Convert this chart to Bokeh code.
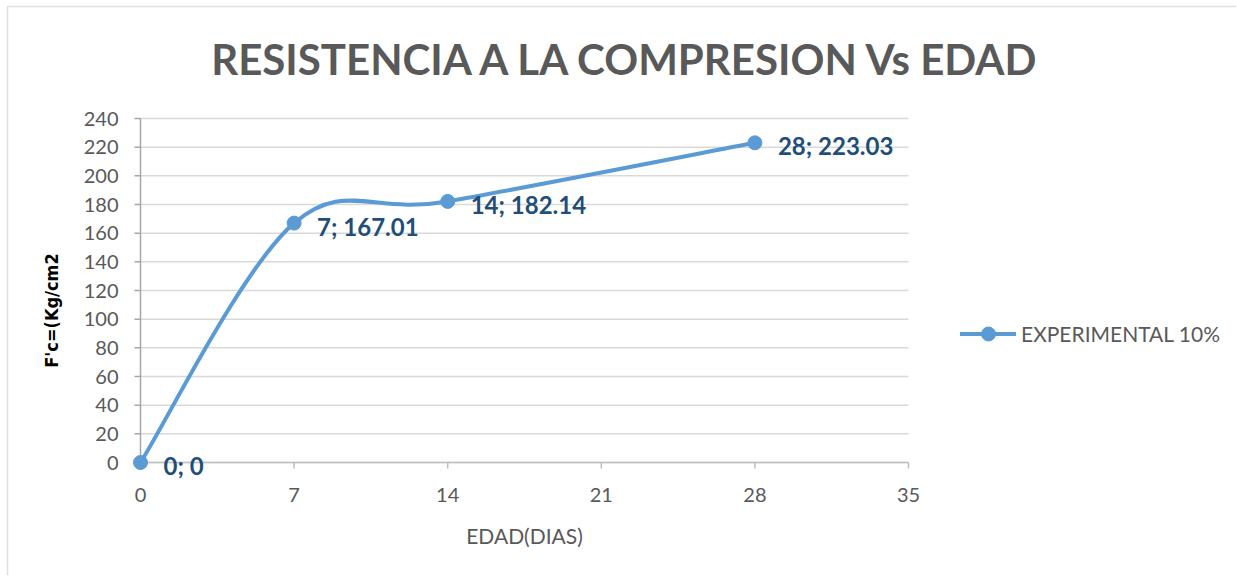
import math
from bokeh.plotting import figure
from bokeh.models import Range1d, Label, Legend, LegendItem, ColumnDataSource, BoxAnnotation
from bokeh.core.properties import value
from bokeh.embed import file_html
from bokeh.resources import INLINE

# ---- data ----
edad_dias = [0, 7, 14, 28]
resistencia = [0, 167.01, 182.14, 223.03]
series_name = "EXPERIMENTAL 10%"
x_ticks = [0, 7, 14, 21, 28, 35]
y_ticks = [0, 20, 40, 60, 80, 100, 120, 140, 160, 180, 200, 220, 240]
title_text = "RESISTENCIA A LA COMPRESION  Vs EDAD"
x_title = "EDAD(DIAS)"
y_title = "F'c=(Kg/cm2"

def fmt(v):
    return f"{v:g}"

point_labels = [f"{fmt(x)}; {fmt(y)}" for x, y in zip(edad_dias, resistencia)]
x_tick_labels = [fmt(t) for t in x_ticks]
y_tick_labels = [fmt(t) for t in y_ticks]

# Excel-like smoothed line: cubic bezier segments (Catmull-Rom control points)
n = len(edad_dias)
x0, y0, x1, y1, cx0, cy0, cx1, cy1 = [], [], [], [], [], [], [], []
for i in range(n - 1):
    pm = max(i - 1, 0)
    pp = min(i + 2, n - 1)
    x0.append(edad_dias[i]); y0.append(resistencia[i])
    x1.append(edad_dias[i + 1]); y1.append(resistencia[i + 1])
    cx0.append(edad_dias[i] + (edad_dias[i + 1] - edad_dias[pm]) / 6)
    cy0.append(resistencia[i] + (resistencia[i + 1] - resistencia[pm]) / 6)
    cx1.append(edad_dias[i + 1] - (edad_dias[pp] - edad_dias[i]) / 6)
    cy1.append(resistencia[i + 1] - (resistencia[pp] - resistencia[i]) / 6)

LINE_COLOR = "#5B9BD5"
TEXT_GRAY = "#595959"
AXIS_GRAY = "#A6A6A6"
FONT = "Lato"

# ---- layout: the frame covers the whole canvas; plot area in pixels ----
W, H = 1236, 575
PA_LEFT, PA_RIGHT, PA_TOP, PA_BOTTOM = 140, 908, 118, 462
xmin, xmax = x_ticks[0], x_ticks[-1]
ymin, ymax = y_ticks[0], y_ticks[-1]
PX_X = (PA_RIGHT - PA_LEFT) / (xmax - xmin)
PX_Y = (PA_BOTTOM - PA_TOP) / (ymax - ymin)

p = figure(width=W, height=H, output_backend="svg", toolbar_location=None,
           x_range=Range1d(xmin - PA_LEFT / PX_X, xmin + (W - PA_LEFT) / PX_X),
           y_range=Range1d(ymin - (H - PA_BOTTOM) / PX_Y, ymin + PA_BOTTOM / PX_Y),
           min_border=0)
p.outline_line_color = None
p.background_fill_color = "white"
p.border_fill_color = "white"
p.axis.visible = False
p.grid.visible = False

# chart-area border (top/left visible)
p.add_layout(BoxAnnotation(left=xmin - (PA_LEFT - 7) / PX_X, right=xmin + (W + 20 - PA_LEFT) / PX_X,
                           top=ymin + (PA_BOTTOM - 6) / PX_Y, bottom=ymin - (H + 20 - PA_BOTTOM) / PX_Y,
                           fill_alpha=0, line_color="#9A9A9A", line_width=1.5, level="underlay"))

# gridlines
p.segment(x0=[xmin] * len(y_ticks), x1=[xmax] * len(y_ticks), y0=y_ticks, y1=y_ticks,
          line_color="#D9D9D9", line_width=1.5)
# axes lines
p.segment(x0=[xmin], x1=[xmax], y0=[ymin], y1=[ymin], line_color="#BFBFBF", line_width=1.5)
p.segment(x0=[xmin], x1=[xmin], y0=[ymin], y1=[ymax], line_color=AXIS_GRAY, line_width=1.5)
# tick marks
TICK = 6
p.segment(x0=[xmin - TICK / PX_X] * len(y_ticks), x1=[xmin] * len(y_ticks), y0=y_ticks, y1=y_ticks,
          line_color=AXIS_GRAY, line_width=1.5)
p.segment(x0=x_ticks, x1=x_ticks, y0=[ymin - TICK / PX_Y] * len(x_ticks), y1=[ymin] * len(x_ticks),
          line_color="#BFBFBF", line_width=1.5)
# tick labels
p.text(x=[xmin] * len(y_ticks), y=y_ticks, text=y_tick_labels, x_offset=-22,
       text_font=value(FONT), text_font_size="20px", text_color=TEXT_GRAY,
       text_align="right", text_baseline="middle")
p.text(x=x_ticks, y=[ymin] * len(x_ticks), text=x_tick_labels, y_offset=32,
       text_font=value(FONT), text_font_size="20px", text_color=TEXT_GRAY,
       text_align="center", text_baseline="middle")
# axis titles
p.text(x=[(xmin + xmax) / 2], y=[ymin], text=[x_title], y_offset=73,
       text_font=value(FONT), text_font_size="21px", text_color=TEXT_GRAY,
       text_align="center", text_baseline="middle")
p.text(x=[xmin], y=[(ymin + ymax) / 2], text=[y_title], x_offset=-89, y_offset=20,
       angle=math.pi / 2, text_font=value("DejaVu Sans Condensed"), text_font_style="bold",
       text_font_size="18px", text_color="#000000", text_align="center", text_baseline="middle")

# series
src = ColumnDataSource(dict(x0=x0, y0=y0, x1=x1, y1=y1, cx0=cx0, cy0=cy0, cx1=cx1, cy1=cy1))
curve = p.bezier(x0="x0", y0="y0", x1="x1", y1="y1", cx0="cx0", cy0="cy0", cx1="cx1", cy1="cy1",
                 source=src, line_color=LINE_COLOR, line_width=4, line_cap="round")
pts = p.scatter(edad_dias, resistencia, size=14, fill_color=LINE_COLOR, line_color=LINE_COLOR)

p.text(edad_dias, resistencia, text=point_labels, x_offset=23, y_offset=3,
       text_font=value(FONT), text_font_style="bold", text_font_size="24px",
       text_color="#1F4E79", text_align="left", text_baseline="middle")

# title
p.add_layout(Label(x=632, y=H - 58, x_units="screen", y_units="screen", text=title_text,
                   text_font=FONT, text_font_style="bold", text_font_size="42px",
                   text_color=TEXT_GRAY, text_align="center", text_baseline="alphabetic"))

legend = Legend(items=[LegendItem(label=series_name, renderers=[curve, pts], index=0)],
                location=(960, H - 334 - 17), glyph_width=56, glyph_height=35, label_height=35,
                label_standoff=5, padding=0, margin=0, spacing=0,
                border_line_alpha=0, background_fill_alpha=0,
                label_text_font=FONT, label_text_font_size="21px", label_text_color=TEXT_GRAY)
p.add_layout(legend)

open("out.html", "w").write(file_html(p, INLINE))
